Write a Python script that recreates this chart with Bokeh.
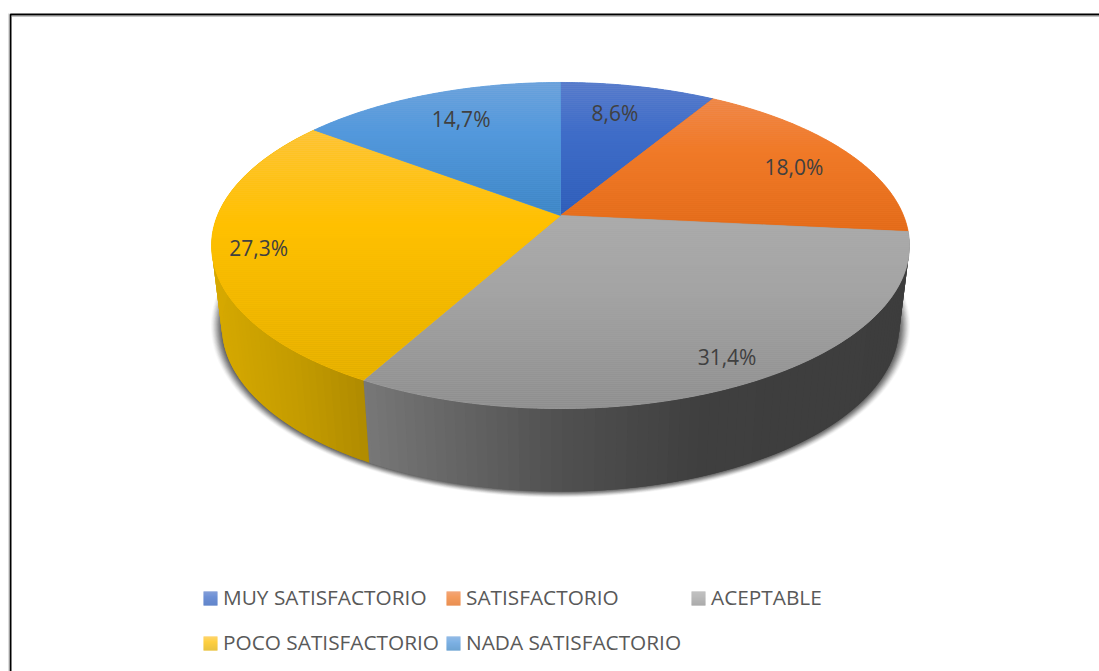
from math import sin, cos, radians, floor, ceil
from bokeh.plotting import figure
from bokeh.models import Range1d
from bokeh.core.properties import value
from bokeh.embed import file_html
from bokeh.resources import INLINE

# ---------- data ----------
categories = ["MUY SATISFACTORIO", "SATISFACTORIO", "ACEPTABLE", "POCO SATISFACTORIO", "NADA SATISFACTORIO"]
percent = [8.6, 18.0, 31.4, 27.3, 14.7]
labels = ["8,6%", "18,0%", "31,4%", "27,3%", "14,7%"]

# ---------- style ----------
top_stops = [
    ["#5E80CC", "#3F6DC8", "#2E5DB8"],
    ["#EE8A50", "#F07A28", "#E26A18"],
    ["#ACACAC", "#A4A4A4", "#8E8E8E"],
    ["#FDC540", "#FFC000", "#E2AE00"],
    ["#72A5DC", "#5398DC", "#3D85C4"],
]
side_stops = {2: [(366, "#787878"), (560, "#505050"), (700, "#3F3F3F"), (910, "#3D3D3D")],
              3: [(212, "#D8AA00"), (300, "#C49C00"), (372, "#AF8A00")]}
legend_x = [203, 446, 691, 203, 446]
legend_y = [598, 598, 598, 643, 643]
label_dx = [-2, 31, 41, -60, -3]
label_dy = [-8, -2, 31, 9, -8.5]
FONT = "Open Sans"
MID = 0.38

# pie geometry on the page (projective view of a circle)
CX, K = 560.0, 0.184
TOP = dict(a=343.0, b=157.5, cy=215.0)
BOT = dict(a=333.0, b=160.0, cy=295.0)


def rim(ang, g, r=1.0):
    s, c = sin(radians(ang)), cos(radians(ang))
    d = 1 + K * r * c
    return CX + g["a"] * r * s / d, g["cy"] - g["b"] * r * c / d


def hex2rgb(h):
    return [int(h[i:i + 2], 16) for i in (1, 3, 5)]


def mix(c0, c1, t):
    a, b = hex2rgb(c0), hex2rgb(c1)
    return "#%02x%02x%02x" % tuple(round(x + (y - x) * t) for x, y in zip(a, b))


def ramp3(stops, t):
    return mix(stops[0], stops[1], t / MID) if t < MID else mix(stops[1], stops[2], (t - MID) / (1 - MID))


def ramp_x(stops, x):
    if x <= stops[0][0]:
        return stops[0][1]
    for (x0, c0), (x1, c1) in zip(stops, stops[1:]):
        if x <= x1:
            return mix(c0, c1, (x - x0) / (x1 - x0))
    return stops[-1][1]


def clip_y(poly, y0, keep_below):
    out = []
    inside = (lambda p: p[1] >= y0) if keep_below else (lambda p: p[1] <= y0)
    for i, p in enumerate(poly):
        q = poly[i - 1]
        if inside(p) != inside(q):
            t = (y0 - q[1]) / (p[1] - q[1])
            out.append((q[0] + (p[0] - q[0]) * t, y0))
        if inside(p):
            out.append(p)
    return out


p = figure(width=1099, height=671, x_range=Range1d(0, 1099), y_range=Range1d(671, 0),
           x_axis_type=None, y_axis_type=None, toolbar_location=None, output_backend="svg",
           min_border=0, outline_line_color=None, background_fill_color="white", border_fill_color="white")
p.grid.visible = False

# frame
p.line([10, 10, 1099], [671, 14, 14], line_color="#000000", line_width=2)
p.line([8.5, 8.5], [671, 13], line_color="#BBBBBB", line_width=1)
p.line([11, 1099], [15.5, 15.5], line_color="#888888", line_width=1)

# soft shadow under the pie
for n in range(14, 0, -1):
    xs, ys = [], []
    for ang in range(0, 360, 2):
        x, y = rim(ang, BOT)
        xs.append(CX + (x - CX) * (1 + n * 0.0023))
        ys.append(y + (y - 325) * n * 0.0026)
    p.patch(xs, ys, fill_color="#383838", fill_alpha=0.025 + 0.01 * (14 - n), line_color=None)

# slice angles from the values
total = sum(percent)
starts, ends, run = [], [], 0.0
for v in percent:
    starts.append(run * 360 / total)
    run += v
    ends.append(run * 360 / total)

# side walls: each quad overlaps the next so no seams appear
for i in side_stops:
    xs, ys, cs = [], [], []
    a = starts[i]
    while a < ends[i] - 1e-6:
        b = min(a + 1.5, ends[i])
        b2 = min(a + 3.0, ends[i])
        t0, t1 = rim(a, TOP), rim(b2, TOP)
        b0, b1 = rim(a, BOT), rim(b2, BOT)
        xs.append([t0[0], t1[0], b1[0], b0[0]])
        ys.append([t0[1], t1[1], b1[1], b0[1]])
        cs.append(ramp_x(side_stops[i], (rim(a, BOT)[0] + rim(b, BOT)[0]) / 2))
        a = b
    p.patches(xs, ys, fill_color=cs, line_color=None)

# top face: under-layer, then narrow horizontal bands on whole pixels
for i in range(len(percent)):
    n = max(2, int((ends[i] - starts[i]) * 2))
    poly = [(CX, TOP["cy"])] + [rim(starts[i] + (ends[i] - starts[i]) * j / n, TOP) for j in range(n + 1)]
    ymin, ymax = min(q[1] for q in poly), max(q[1] for q in poly)
    p.patch([q[0] for q in poly], [q[1] for q in poly], fill_color=top_stops[i][1],
            line_color=top_stops[i][1], line_width=0.8)
    xs, ys, cs = [], [], []
    y = floor(ymin)
    while y < ymax:
        band = clip_y(clip_y(poly, y, True), y + 2, False)
        if len(band) >= 3:
            xs.append([q[0] for q in band])
            ys.append([q[1] for q in band])
            cs.append(ramp3(top_stops[i], min(1, max(0, (y + 1 - ymin) / (ymax - ymin)))))
        y += 2
    p.patches(xs, ys, fill_color=cs, line_color=None)

# value labels
for i, txt in enumerate(labels):
    m = (starts[i] + ends[i]) / 2
    x, y = rim(m, TOP, 0.7)
    p.text([x + label_dx[i] - 0.5], [y + label_dy[i]], text=[txt], text_font=value(FONT), text_font_size="21px",
           text_color="#404040", text_align="center", text_baseline="middle")

# legend
for i, name in enumerate(categories):
    x0, yc = legend_x[i], legend_y[i]
    xs, ys, cs = [], [], []
    for k in range(14):
        xs.append([x0, x0 + 14, x0 + 14, x0])
        ys.append([yc - 7 + k, yc - 7 + k, yc - 6 + k, yc - 6 + k])
        cs.append(ramp3(top_stops[i], (k + .5) / 14))
    p.patches(xs, ys, fill_color=cs, line_color=None)
    p.text([x0 + 19.5], [yc - 1.5], text=[name], text_font=value(FONT), text_font_size="20.8px",
           text_color="#595959", text_align="left", text_baseline="middle")

open("out.html", "w").write(file_html(p, INLINE))
